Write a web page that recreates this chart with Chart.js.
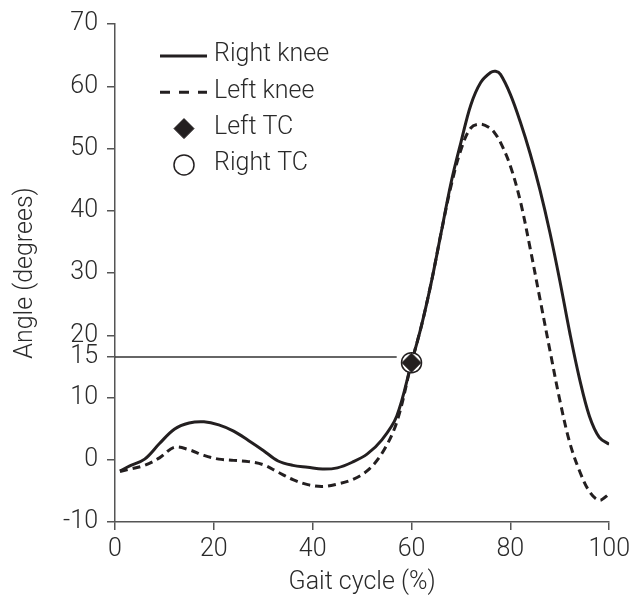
<!DOCTYPE html>
<html>
<head>
<meta charset="utf-8">
<script src="https://cdn.jsdelivr.net/npm/chart.js@4.4.1/dist/chart.umd.min.js"></script>
<style>
  html, body { margin: 0; padding: 0; background: #fff; }
  canvas { display: block; }
</style>
</head>
<body>
<canvas id="kneeChart" width="635" height="598"></canvas>
<script>
// Gait cycle positions (%) and knee angles (degrees)
const gaitPct = [1, 3, 6, 9, 12, 15, 18, 21, 24, 27, 30, 33, 36, 39, 42, 45, 48, 51, 54, 57,
  60, 62, 64, 66, 68, 70, 72, 74, 76, 77, 78, 80, 82, 84, 86, 88, 90, 92, 94, 96, 98, 100];
const rightKnee = [-1.8, -1.0, 0.1, 2.6, 4.9, 5.9, 6.1, 5.6, 4.6, 3.1, 1.5, -0.2, -0.9, -1.2, -1.5, -1.3, -0.4, 0.9, 3.2, 7.0,
  15.6, 21.5, 28.5, 36.5, 44.5, 51, 57, 60.6, 62.2, 62.4, 61.9, 58.7, 54.3, 49.2, 43.3, 36.5, 28.8, 20.5, 13.0, 7.0, 3.6, 2.5];
const leftKnee = [-1.9, -1.5, -0.9, 0.3, 2.0, 1.6, 0.7, 0.1, -0.1, -0.3, -0.8, -2.0, -3.2, -4.0, -4.3, -3.9, -3.2, -1.8, 1.0, 6.0,
  15.6, 21.5, 28.5, 36.5, 44, 49.8, 53.3, 53.9, 53.2, 52.3, 51, 47.2, 41.6, 34.0, 25.8, 17.6, 9.6, 2.8, -1.8, -5.1, -6.5, -5.5];

// toe contact points
const leftTC = [{ x: 60, y: 15.6 }];
const rightTC = [{ x: 60, y: 15.6 }];

// horizontal reference line, labelled "15" on the axis
const refLevel = 16.5;
const refLabel = "15";
const refEnd = 57;

const xTicks = [0, 20, 40, 60, 80, 100];
const yTicks = [-10, 0, 10, refLevel, 20, 30, 40, 50, 60, 70];

const ink = "#231f20";
const axisColor = "#555";
const textColor = "#2a2a2a";
const font = { family: "Roboto", size: 25, weight: "300" };

const toPoints = (xs, ys) => xs.map((x, i) => ({ x: x, y: ys[i] }));

// legend drawn inside the plot, top left
const kneeLegend = {
  id: "kneeLegend",
  afterDraw(chart) {
    const ctx = chart.ctx;
    const area = chart.chartArea;
    const lineX0 = area.left + 45;
    const lineX1 = area.left + 92;
    const markX = area.left + 69;
    const textX = area.left + 99;
    const rowY = area.top + 32;
    const rowGap = 36.3;
    const items = [0, 1, 2, 3].map(i => chart.data.datasets[i]);

    ctx.save();
    ctx.font = `${font.weight} ${font.size}px ${font.family}`;
    ctx.textBaseline = "middle";
    ctx.fillStyle = textColor;
    items.forEach((ds, i) => {
      const y = rowY + i * rowGap;
      ctx.save();
      if (ds.showLine === false) {
        ctx.fillStyle = ds.backgroundColor;
        ctx.strokeStyle = ds.borderColor;
        ctx.lineWidth = ds.borderWidth;
        Chart.helpers.drawPoint(ctx, {
          pointStyle: ds.pointStyle,
          radius: ds.legendRadius,
          borderWidth: ds.borderWidth,
          rotation: 0
        }, markX, y);
      } else {
        ctx.strokeStyle = ds.borderColor;
        ctx.lineWidth = ds.borderWidth;
        ctx.setLineDash(ds.legendDash || []);
        ctx.beginPath();
        ctx.moveTo(lineX0, y);
        ctx.lineTo(lineX1, y);
        ctx.stroke();
      }
      ctx.restore();
      ctx.fillText(ds.label, textX, y - 1);
    });
    ctx.restore();
  }
};

new Chart(document.getElementById("kneeChart"), {
  type: "line",
  data: {
    datasets: [
      {
        label: "Right knee",
        data: toPoints(gaitPct, rightKnee),
        borderColor: ink,
        borderWidth: 3,
        pointRadius: 0,
        tension: 0.35,
        order: 2
      },
      {
        label: "Left knee",
        data: toPoints(gaitPct, leftKnee),
        borderColor: ink,
        borderWidth: 3,
        borderDash: [8, 5],
        legendDash: [10, 9],
        pointRadius: 0,
        tension: 0.35,
        order: 2
      },
      {
        label: "Left TC",
        data: leftTC,
        showLine: false,
        pointStyle: "rectRot",
        pointRadius: 9.5,
        legendRadius: 10,
        backgroundColor: ink,
        borderColor: ink,
        borderWidth: 1,
        order: 0
      },
      {
        label: "Right TC",
        data: rightTC,
        showLine: false,
        pointStyle: "circle",
        pointRadius: 10,
        legendRadius: 10,
        backgroundColor: "#fff",
        borderColor: ink,
        borderWidth: 1.5,
        order: 1
      },
      {
        label: "ref",
        data: [{ x: 0, y: refLevel }, { x: refEnd, y: refLevel }],
        borderColor: "#333",
        borderWidth: 1.5,
        pointRadius: 0,
        order: 3
      }
    ]
  },
  options: {
    responsive: false,
    animation: false,
    layout: { padding: { top: 23, right: 23, left: 0, bottom: 0 } },
    plugins: {
      legend: { display: false },
      tooltip: { enabled: false }
    },
    scales: {
      x: {
        type: "linear",
        min: 0,
        max: 100,
        afterBuildTicks: s => { s.ticks = xTicks.map(v => ({ value: v })); },
        afterFit: s => { s.height = 76; },
        grid: { drawOnChartArea: false, tickLength: 8, color: axisColor, lineWidth: 1.5 },
        border: { color: axisColor, width: 1.5 },
        ticks: { color: textColor, font: font, padding: 5 },
        title: { display: true, text: "Gait cycle (%)", color: textColor, font: font, padding: 0 }
      },
      y: {
        min: -10,
        max: 70,
        afterBuildTicks: s => { s.ticks = yTicks.map(v => ({ value: v })); },
        afterFit: s => { s.width = 115; },
        grid: { drawOnChartArea: false, tickLength: 8, color: axisColor, lineWidth: 1.5 },
        border: { color: axisColor, width: 1.5 },
        ticks: {
          color: textColor,
          font: font,
          padding: 9,
          callback: v => (v === refLevel ? refLabel : v)
        },
        title: { display: true, text: "Angle (degrees)", color: textColor, font: font, padding: { top: 11, bottom: 0 } }
      }
    }
  },
  plugins: [kneeLegend]
});
</script>
</body>
</html>
